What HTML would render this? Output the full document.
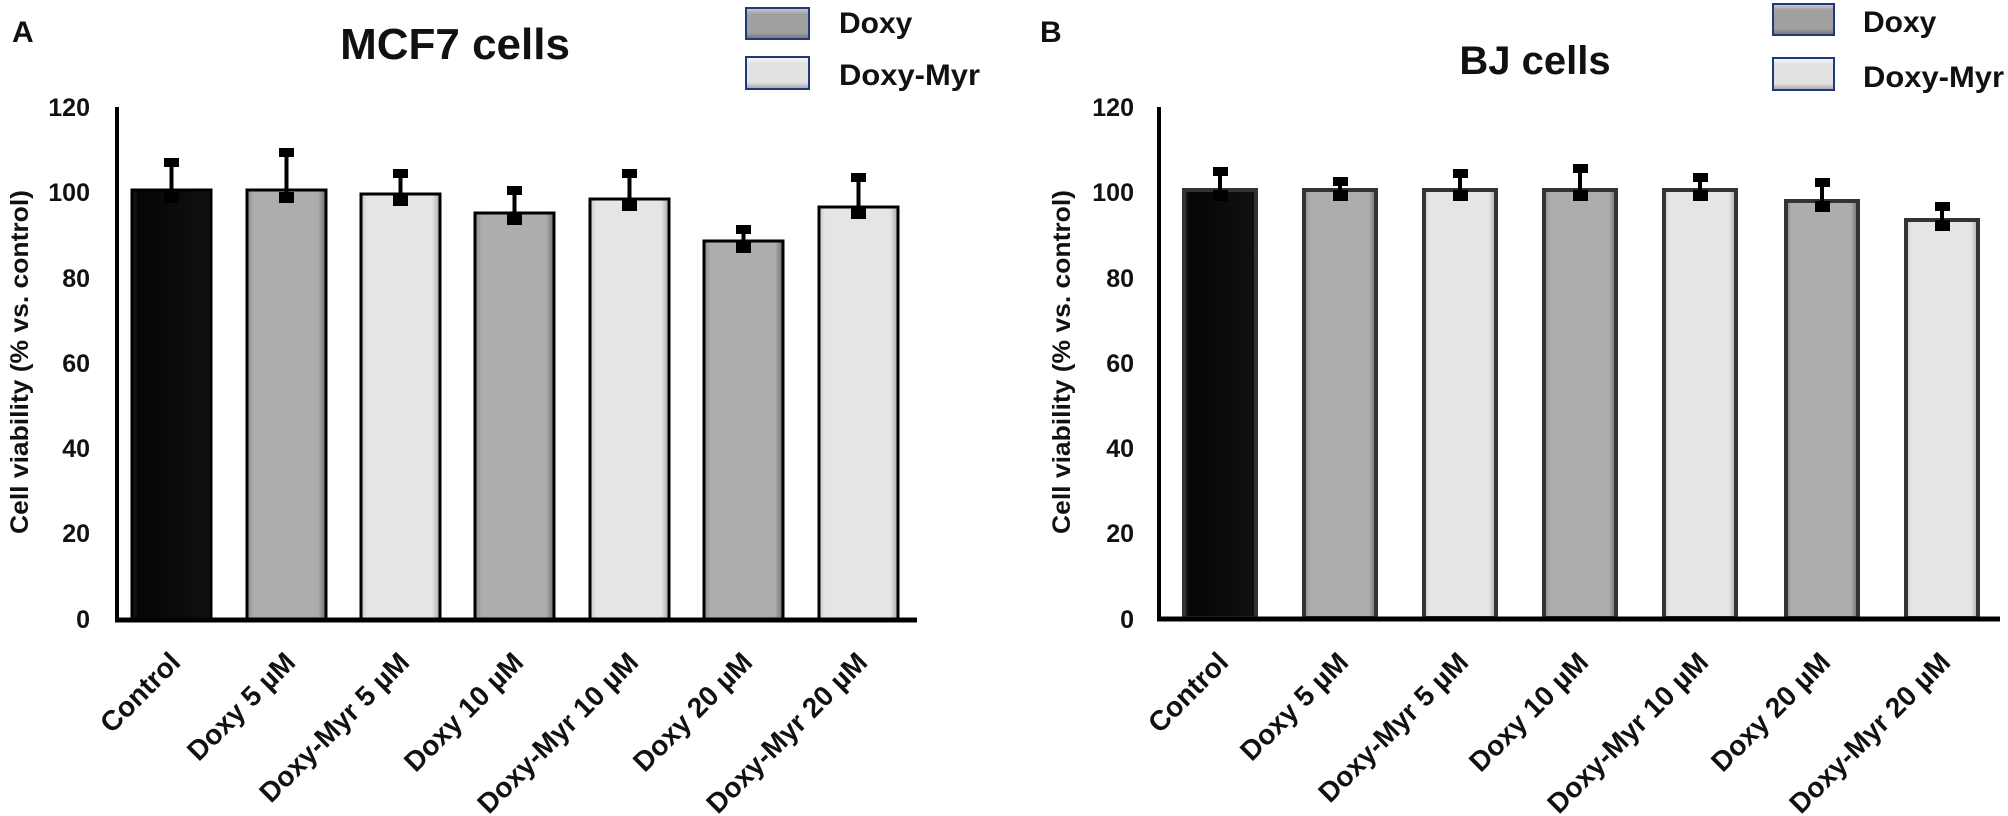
<!DOCTYPE html>
<html><head><meta charset="utf-8"><style>
html,body{margin:0;padding:0;background:#fff;}
svg{display:block;}
text{font-family:"Liberation Sans",sans-serif;font-weight:bold;fill:#111;}
</style></head><body>
<svg width="2008" height="816" viewBox="0 0 2008 816" xmlns="http://www.w3.org/2000/svg">
<defs>
<linearGradient id="gG" x1="0" x2="1" y1="0" y2="0">
<stop offset="0" stop-color="#8a8a8a"/><stop offset="0.08" stop-color="#adadad"/><stop offset="0.9" stop-color="#adadad"/><stop offset="1" stop-color="#6e6e6e"/></linearGradient>
<linearGradient id="gL" x1="0" x2="1" y1="0" y2="0">
<stop offset="0" stop-color="#c8c8c8"/><stop offset="0.08" stop-color="#e5e5e5"/><stop offset="0.9" stop-color="#e5e5e5"/><stop offset="1" stop-color="#a8a8a8"/></linearGradient>
<linearGradient id="gB" x1="0" x2="1" y1="0" y2="0">
<stop offset="0" stop-color="#222"/><stop offset="0.08" stop-color="#050505"/><stop offset="1" stop-color="#111"/></linearGradient>
<linearGradient id="lgG" x1="0" x2="0" y1="0" y2="1">
<stop offset="0" stop-color="#d0d0d0"/><stop offset="0.2" stop-color="#a0a0a0"/><stop offset="0.8" stop-color="#a0a0a0"/><stop offset="1" stop-color="#707070"/></linearGradient>
<linearGradient id="lgL" x1="0" x2="0" y1="0" y2="1">
<stop offset="0" stop-color="#fafafa"/><stop offset="0.2" stop-color="#e2e2e2"/><stop offset="0.8" stop-color="#e2e2e2"/><stop offset="1" stop-color="#a0a0a0"/></linearGradient>
</defs>

<!-- ===== Panel A ===== -->
<text x="12" y="42" font-size="30">A</text>
<text x="455" y="59" font-size="44" text-anchor="middle">MCF7 cells</text>
<rect x="746" y="8" width="63" height="31" fill="url(#lgG)" stroke="#1f3a7a" stroke-width="2"/>
<rect x="746" y="57" width="63" height="32" fill="url(#lgL)" stroke="#1f3a7a" stroke-width="2"/>
<text x="839" y="33" font-size="30">Doxy</text>
<text x="839" y="85" font-size="30" textLength="141" lengthAdjust="spacingAndGlyphs">Doxy-Myr</text>

<g font-size="25" text-anchor="end">
<text x="90" y="116">120</text><text x="90" y="201">100</text><text x="90" y="287">80</text>
<text x="90" y="372">60</text><text x="90" y="457">40</text><text x="90" y="542">20</text><text x="90" y="628">0</text>
</g>
<text transform="translate(28,362) rotate(-90)" font-size="25" text-anchor="middle" textLength="344" lengthAdjust="spacingAndGlyphs">Cell viability (% vs. control)</text>

<g stroke="#000" stroke-width="3">
<rect x="132" y="190" width="79" height="429" fill="url(#gB)"/>
<rect x="247" y="190" width="79" height="429" fill="url(#gG)"/>
<rect x="361" y="194" width="79" height="425" fill="url(#gL)"/>
<rect x="475" y="213" width="79" height="406" fill="url(#gG)"/>
<rect x="590" y="199" width="79" height="420" fill="url(#gL)"/>
<rect x="704" y="241" width="79" height="378" fill="url(#gG)"/>
<rect x="819" y="207" width="79" height="412" fill="url(#gL)"/>
</g>
<g stroke="#000" stroke-width="4" fill="#000">
<line x1="171.5" y1="198" x2="171.5" y2="162"/><rect x="166" y="160" width="11" height="5"/><rect x="166" y="194" width="11" height="7"/>
<line x1="286.5" y1="198" x2="286.5" y2="152"/><rect x="281" y="150" width="11" height="5"/><rect x="281" y="194" width="11" height="7"/>
<line x1="400.5" y1="201" x2="400.5" y2="173"/><rect x="395" y="171" width="11" height="5"/><rect x="395" y="197" width="11" height="7"/>
<line x1="514.5" y1="220" x2="514.5" y2="190"/><rect x="509" y="188" width="11" height="5"/><rect x="509" y="216" width="11" height="7"/>
<line x1="629.5" y1="206" x2="629.5" y2="173"/><rect x="624" y="171" width="11" height="5"/><rect x="624" y="202" width="11" height="7"/>
<line x1="743.5" y1="248" x2="743.5" y2="229"/><rect x="738" y="227" width="11" height="5"/><rect x="738" y="244" width="11" height="7"/>
<line x1="858.5" y1="214" x2="858.5" y2="177"/><rect x="853" y="175" width="11" height="5"/><rect x="853" y="210" width="11" height="7"/>
</g>
<line x1="117" y1="107" x2="117" y2="621" stroke="#000" stroke-width="4"/>
<line x1="115" y1="620" x2="917" y2="620" stroke="#000" stroke-width="5"/>
<g font-size="28" text-anchor="end">
<text transform="translate(182,664) rotate(-45)">Control</text>
<text transform="translate(297,664) rotate(-45)">Doxy 5 µM</text>
<text transform="translate(411,664) rotate(-45)">Doxy-Myr 5 µM</text>
<text transform="translate(525,664) rotate(-45)">Doxy 10 µM</text>
<text transform="translate(640,664) rotate(-45)">Doxy-Myr 10 µM</text>
<text transform="translate(754,664) rotate(-45)">Doxy 20 µM</text>
<text transform="translate(869,664) rotate(-45)">Doxy-Myr 20 µM</text>
</g>

<!-- ===== Panel B ===== -->
<text x="1040" y="42" font-size="30">B</text>
<text x="1535" y="74" font-size="40" text-anchor="middle">BJ cells</text>
<rect x="1773" y="4" width="61" height="31" fill="url(#lgG)" stroke="#1f3a7a" stroke-width="2"/>
<rect x="1773" y="58" width="61" height="32" fill="url(#lgL)" stroke="#1f3a7a" stroke-width="2"/>
<text x="1863" y="32" font-size="30">Doxy</text>
<text x="1863" y="87" font-size="30" textLength="141" lengthAdjust="spacingAndGlyphs">Doxy-Myr</text>

<g font-size="25" text-anchor="end">
<text x="1134" y="116">120</text><text x="1134" y="201">100</text><text x="1134" y="287">80</text>
<text x="1134" y="372">60</text><text x="1134" y="457">40</text><text x="1134" y="542">20</text><text x="1134" y="628">0</text>
</g>
<text transform="translate(1070,362) rotate(-90)" font-size="25" text-anchor="middle" textLength="344" lengthAdjust="spacingAndGlyphs">Cell viability (% vs. control)</text>

<g stroke="#333" stroke-width="4">
<rect x="1184" y="190" width="72" height="428" fill="url(#gB)"/>
<rect x="1304" y="190" width="72" height="428" fill="url(#gG)"/>
<rect x="1424" y="190" width="72" height="428" fill="url(#gL)"/>
<rect x="1544" y="190" width="72" height="428" fill="url(#gG)"/>
<rect x="1664" y="190" width="72" height="428" fill="url(#gL)"/>
<rect x="1786" y="201" width="72" height="417" fill="url(#gG)"/>
<rect x="1906" y="220" width="72" height="398" fill="url(#gL)"/>
</g>
<g stroke="#000" stroke-width="4" fill="#000">
<line x1="1220" y1="196" x2="1220" y2="171"/><rect x="1215" y="169" width="11" height="5"/><rect x="1215" y="192" width="11" height="7"/>
<line x1="1340" y1="196" x2="1340" y2="181"/><rect x="1335" y="179" width="11" height="5"/><rect x="1335" y="192" width="11" height="7"/>
<line x1="1460" y1="196" x2="1460" y2="173"/><rect x="1455" y="171" width="11" height="5"/><rect x="1455" y="192" width="11" height="7"/>
<line x1="1580" y1="196" x2="1580" y2="168"/><rect x="1575" y="166" width="11" height="5"/><rect x="1575" y="192" width="11" height="7"/>
<line x1="1700" y1="196" x2="1700" y2="177"/><rect x="1695" y="175" width="11" height="5"/><rect x="1695" y="192" width="11" height="7"/>
<line x1="1822" y1="207" x2="1822" y2="182"/><rect x="1817" y="180" width="11" height="5"/><rect x="1817" y="203" width="11" height="7"/>
<line x1="1942" y1="226" x2="1942" y2="206"/><rect x="1937" y="204" width="11" height="5"/><rect x="1937" y="222" width="11" height="7"/>
</g>
<line x1="1159" y1="107" x2="1159" y2="620" stroke="#000" stroke-width="4"/>
<line x1="1157" y1="619" x2="2000" y2="619" stroke="#000" stroke-width="5"/>
<g font-size="28" text-anchor="end">
<text transform="translate(1230,664) rotate(-45)">Control</text>
<text transform="translate(1350,664) rotate(-45)">Doxy 5 µM</text>
<text transform="translate(1470,664) rotate(-45)">Doxy-Myr 5 µM</text>
<text transform="translate(1590,664) rotate(-45)">Doxy 10 µM</text>
<text transform="translate(1710,664) rotate(-45)">Doxy-Myr 10 µM</text>
<text transform="translate(1832,664) rotate(-45)">Doxy 20 µM</text>
<text transform="translate(1952,664) rotate(-45)">Doxy-Myr 20 µM</text>
</g>
</svg>
</body></html>
